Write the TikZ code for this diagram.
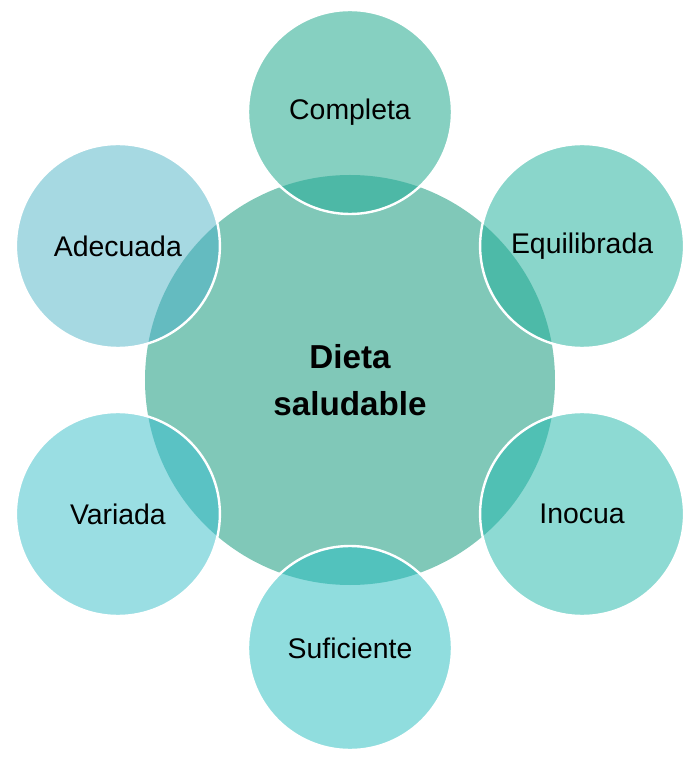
\documentclass[tikz,border=0pt]{standalone}
\usepackage{fontspec}
\setmainfont{Liberation Sans}
\usepackage{xcolor}

\definecolor{centro}{HTML}{80C8B8}
\definecolor{cCompleta}{HTML}{86D0C1}
\definecolor{cEquilibrada}{HTML}{8AD6CB}
\definecolor{cInocua}{HTML}{8DDAD3}
\definecolor{cSuficiente}{HTML}{90DDDE}
\definecolor{cVariada}{HTML}{9ADEE3}
\definecolor{cAdecuada}{HTML}{A6D9E2}
\definecolor{oCompleta}{HTML}{4DB8A6}
\definecolor{oEquilibrada}{HTML}{4DBAA8}
\definecolor{oInocua}{HTML}{50C0B4}
\definecolor{oSuficiente}{HTML}{52C2BD}
\definecolor{oVariada}{HTML}{5AC2C4}
\definecolor{oAdecuada}{HTML}{64BBC0}

\begin{document}
\begin{tikzpicture}[x=0.5pt,y=0.5pt,
    petal/.style={circle, minimum size=102pt, inner sep=0pt, font=\fontsize{14.2}{17}\selectfont},
    core/.style={circle, minimum size=205pt, inner sep=0pt, fill=centro}]
    \useasboundingbox (-350,-385) rectangle (341,380);

    \node[core] (dieta) at (0,0) {};

    \node[petal, fill=cCompleta] (completa) at (90:268) {};
    \node[petal, fill=cEquilibrada] (equilibrada) at (30:268) {};
    \node[petal, fill=cInocua] (inocua) at (-30:268) {};
    \node[petal, fill=cSuficiente] (suficiente) at (-90:268) {};
    \node[petal, fill=cVariada] (variada) at (-150:268) {};
    \node[petal, fill=cAdecuada] (adecuada) at (150:268) {};

    % overlaps with the centre
    \begin{scope}
        \clip (dieta.center) circle (205);
        \fill[oCompleta] (completa.center) circle (102);
        \fill[oEquilibrada] (equilibrada.center) circle (102);
        \fill[oInocua] (inocua.center) circle (102);
        \fill[oSuficiente] (suficiente.center) circle (102);
        \fill[oVariada] (variada.center) circle (102);
        \fill[oAdecuada] (adecuada.center) circle (102);
    \end{scope}

    \foreach \p in {completa,equilibrada,inocua,suficiente,variada,adecuada}
        \draw[white, line width=1.2pt] (\p.center) circle (102);

    \node[font=\fontsize{16.6}{23.5}\selectfont\bfseries, align=center] at (dieta.center) {Dieta\\saludable};
    \node[petal] at (completa.center) {Completa};
    \node[petal] at (equilibrada.center) {Equilibrada};
    \node[petal] at (inocua.center) {Inocua};
    \node[petal] at (suficiente.center) {Suficiente};
    \node[petal] at (variada.center) {Variada};
    \node[petal] at (adecuada.center) {Adecuada};
\end{tikzpicture}
\end{document}
